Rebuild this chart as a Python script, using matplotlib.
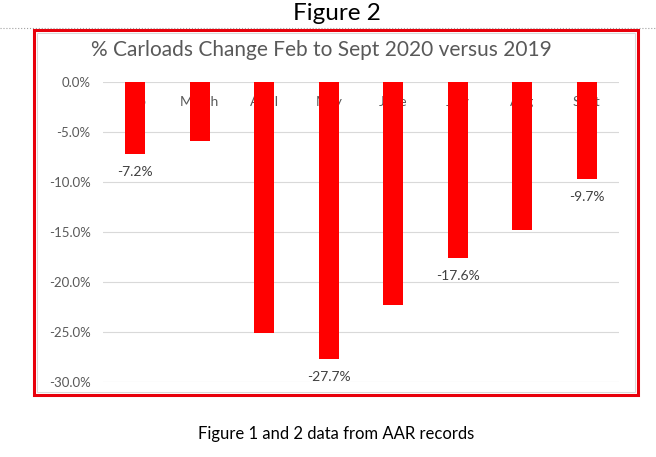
import matplotlib
matplotlib.use("Agg")
import matplotlib.pyplot as plt
from matplotlib.patches import Rectangle
from matplotlib.lines import Line2D
from matplotlib.ticker import FuncFormatter

## datos
meses = ["Feb", "March", "April", "May", "June", "July", "Aug", "Sept"]
cambio = [-7.2, -5.9, -25.1, -27.7, -22.3, -17.6, -14.8, -9.7]
etiquetados = ["Feb", "May", "July", "Sept"]   # barras con etiqueta de dato
yticks = [0, -5, -10, -15, -20, -25, -30]

plt.rcParams["font.family"] = ["Lato", "DejaVu Sans"]
W, H = 656, 457
fig = plt.figure(figsize=(W / 100, H / 100), dpi=100)

ax = fig.add_axes([103 / W, 1 - 381.7 / H, 516 / W, 300 / H])
x = list(range(len(meses)))
ax.bar(x, cambio, width=0.31, color="#ff0000", zorder=2)
ax.set_xlim(-0.5, len(meses) - 0.5)
ax.set_ylim(-30, 0)
ax.set_axisbelow(True)

## nombres de meses arriba, detras de las barras
ax.xaxis.tick_top()
ax.set_xticks(x)
ax.set_xticklabels(meses)
ax.tick_params(axis="x", length=0, pad=-19, labelsize=10, labelcolor="#595959")
ax.set_yticks(yticks)
ax.yaxis.set_major_formatter(FuncFormatter(lambda v, p: f"{v:.1f}%"))
ax.tick_params(axis="y", length=0, pad=9, labelsize=9.5, labelcolor="#595959")
ax.grid(axis="y", color="#d9d9d9", linewidth=0.8)
for s in ax.spines.values():
    s.set_visible(False)

for i, (m, v) in enumerate(zip(meses, cambio)):
    if m in etiquetados:
        ax.annotate(f"{v:.1f}%", (i, v), xytext=(0, -13), textcoords="offset points",
                    ha="center", va="center", fontsize=10, color="#404040")

## textos y marcos de la figura
fig.text(321 / W, 1 - 50 / H, "% Carloads Change Feb to Sept 2020 versus 2019",
         ha="center", va="center", fontsize=15, color="#595959")
fig.text(337 / W, 1 - 14 / H, "Figure 2", ha="center", va="center", fontsize=17.5, color="black")
fig.text(336 / W, 1 - 434 / H, "Figure 1 and 2 data from AAR records",
         ha="center", va="center", fontsize=12, color="black")
fig.add_artist(Line2D([0, 1], [1 - 28 / H, 1 - 28 / H], transform=fig.transFigure,
                      color="#a0a0a0", linestyle=":", linewidth=0.8))
fig.add_artist(Rectangle((37 / W, 1 - 392 / H), 598 / W, 359 / H, transform=fig.transFigure,
                         fill=False, edgecolor="#d9d9d9", linewidth=0.75))
fig.add_artist(Rectangle((34 / W, 1 - 395 / H), 604 / W, 365 / H, transform=fig.transFigure,
                         fill=False, edgecolor="#e8000b", linewidth=2.2))

fig.savefig("out.png", dpi=100)
